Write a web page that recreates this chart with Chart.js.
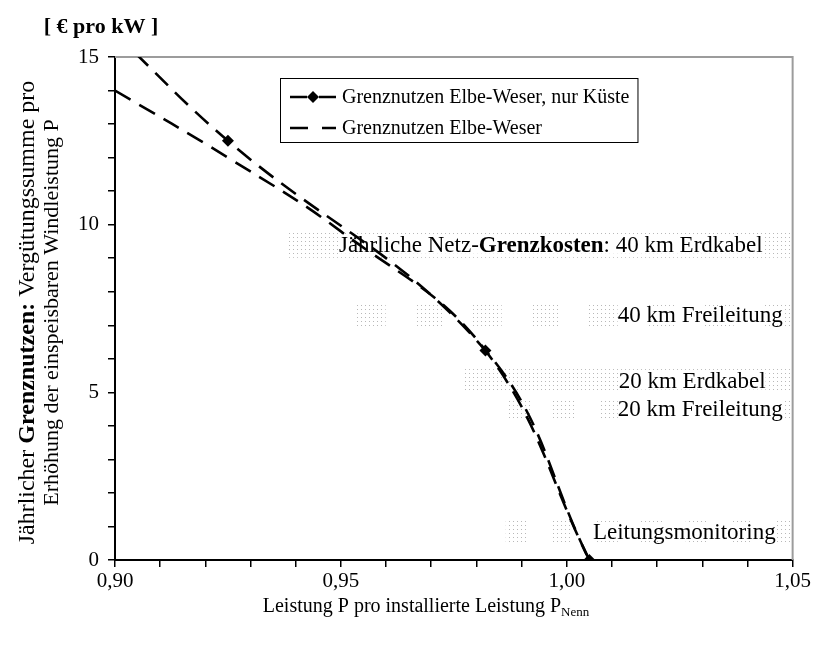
<!DOCTYPE html>
<html><head><meta charset="utf-8">
<script src="https://cdn.jsdelivr.net/npm/chart.js@4.4.1/dist/chart.umd.min.js"></script>
<style>html,body{margin:0;padding:0;background:#fff}#wrap{width:813px;height:648px;position:relative}</style>
</head><body><div id="wrap"><canvas id="c" width="813" height="648"></canvas></div>
<script>
// ---------- data ----------
const xNurKueste = [0.900, 0.925, 0.982, 1.005];
const yNurKueste = [15.7, 12.5, 6.25, 0.0];
const xElbeWeser = [0.900, 0.925, 0.950, 0.982, 1.005];
const yElbeWeser = [14.0, 12.0, 9.8, 6.25, 0.0];
const seriesLabels = ['Grenznutzen Elbe-Weser, nur Küste', 'Grenznutzen Elbe-Weser'];
const costLabels = ['40 km Erdkabel', '40 km Freileitung', '20 km Erdkabel', '20 km Freileitung', 'Leitungsmonitoring'];
const costLevels = [9.4, 7.3, 5.35, 4.5, 0.85];
const costFrom = [0.938, 0.9535, 0.977, 0.987, 0.9865];
const xTickLabels = ['0,90', '0,95', '1,00', '1,05'];
const yTickLabels = ['0', '5', '10', '15'];
const unitLabel = '[ € pro kW ]';
const xTitle = ['Leistung P pro installierte Leistung P', 'Nenn'];
const yTitle1 = [['Jährlicher ', false], ['Grenznutzen:', true], [' Vergütungssumme pro', false]];
const yTitle2 = [['Erhöhung der einspeisbaren Windleistung P', false]];
const notePrefix = [['Jährliche Netz-', false], ['Grenzkosten', true], [': ', false]];

// ---------- style ----------
const SERIF = '"Liberation Serif", "Times New Roman", serif';
const S = { tick: 21, xTitle: 20, yTitle1: 24, yTitle2: 22, unit: 22, legend: 20, note: 23, line: 2.6, dash: [18, 10] };
const bandStyle = [
  { h: 26, period: 0, width: 0, textRight: 30 },
  { h: 26, period: 58, width: 29, textRight: 10 },
  { h: 23, period: 0, width: 0, textRight: 27 },
  { h: 22, period: 45, width: 24, textRight: 10 },
  { h: 21, period: 45, width: 22, textRight: 17 }
];

function fontOf(size, bold) { return (bold ? 'bold ' : '') + size + 'px ' + SERIF; }
function richWidth(g, parts, size) { let w = 0; for (const [t, b] of parts) { g.font = fontOf(size, b); w += g.measureText(t).width; } return w; }
function drawRich(g, parts, x, y, size) { let cx = x; for (const [t, b] of parts) { g.font = fontOf(size, b); g.fillText(t, cx, y); cx += g.measureText(t).width; } return cx; }

let pattern = null;
function dotPattern(g) {
  if (pattern) return pattern;
  const c = document.createElement('canvas'); c.width = 4; c.height = 4;
  const p = c.getContext('2d'); p.fillStyle = '#b8b8b8'; p.fillRect(1, 1, 1, 1);
  pattern = g.createPattern(c, 'repeat');
  return pattern;
}

const decor = {
  id: 'decor',
  beforeDatasetsDraw(chart) {
    const g = chart.ctx, a = chart.chartArea, xs = chart.scales.x, ys = chart.scales.y;
    g.save();
    g.strokeStyle = '#9c9c9c'; g.lineWidth = 2;
    g.beginPath(); g.moveTo(a.left, a.top); g.lineTo(a.right, a.top); g.lineTo(a.right, a.bottom); g.stroke();
    const pat = dotPattern(g);
    costLevels.forEach((lv, i) => {
      const st = bandStyle[i];
      const yc = ys.getPixelForValue(lv);
      const x0 = xs.getPixelForValue(costFrom[i]);
      const x1 = a.right - 2;
      g.fillStyle = pat;
      if (st.period) {
        for (let x = x0; x < x1; x += st.period) g.fillRect(x, yc - st.h / 2, Math.min(st.width, x1 - x), st.h);
      } else {
        g.fillRect(x0, yc - st.h / 2, x1 - x0, st.h);
      }
      const parts = (i === 0 ? notePrefix : []).concat([[costLabels[i], false]]);
      const w = richWidth(g, parts, S.note);
      const tx = a.right - st.textRight - w;
      g.fillStyle = '#fff';
      g.fillRect(tx, yc - 9, w, 18);
      g.fillStyle = '#000'; g.textBaseline = 'middle'; g.textAlign = 'left';
      drawRich(g, parts, tx, yc + 1, S.note);
    });
    g.restore();
  },
  afterDraw(chart) {
    const g = chart.ctx, a = chart.chartArea;
    g.save();
    g.fillStyle = '#000'; g.textBaseline = 'middle';
    g.font = fontOf(S.unit, true); g.textAlign = 'center';
    g.fillText(unitLabel, 101, 27);
    g.textAlign = 'left'; g.font = fontOf(S.xTitle, false);
    const xw = g.measureText(xTitle[0]).width;
    g.font = fontOf(13, false);
    const sw = g.measureText(xTitle[1]).width;
    const xstart = 426 - (xw + sw) / 2;
    g.font = fontOf(S.xTitle, false); g.fillText(xTitle[0], xstart, 607);
    g.font = fontOf(13, false); g.fillText(xTitle[1], xstart + xw, 613);
    const cy = (a.top + a.bottom) / 2 + 4;
    [[yTitle1, 28, S.yTitle1], [yTitle2, 52, S.yTitle2]].forEach(([parts, x, fs]) => {
      g.save(); g.translate(x, cy); g.rotate(-Math.PI / 2);
      const w = richWidth(g, parts, fs);
      drawRich(g, parts, -w / 2, 0, fs);
      g.restore();
    });
    const lx = 280, ly = 78, lh = 64;
    g.font = fontOf(S.legend, false);
    const tw = Math.max(...seriesLabels.map(t => g.measureText(t).width));
    const lw = 342 - lx + tw + 8;
    g.fillStyle = '#fff'; g.fillRect(lx, ly, lw, lh);
    g.strokeStyle = '#000'; g.lineWidth = 1; g.strokeRect(lx + 0.5, ly + 0.5, lw, lh);
    const rows = [ly + 19, ly + 50];
    g.lineWidth = S.line; g.strokeStyle = '#000';
    rows.forEach((ry, i) => {
      if (i === 0) {
        g.beginPath(); g.moveTo(290, ry); g.lineTo(307, ry); g.moveTo(319, ry); g.lineTo(336, ry); g.stroke();
        g.fillStyle = '#000';
        g.beginPath(); g.moveTo(313, ry - 6); g.lineTo(319, ry); g.lineTo(313, ry + 6); g.lineTo(307, ry); g.closePath(); g.fill();
      } else {
        g.setLineDash([18, 14]);
        g.beginPath(); g.moveTo(290, ry); g.lineTo(336, ry); g.stroke();
        g.setLineDash([]);
      }
      g.fillStyle = '#000'; g.font = fontOf(S.legend, false); g.textAlign = 'left';
      g.fillText(seriesLabels[i], 342, ry + 1);
    });
    g.restore();
  }
};

const chart = new Chart(document.getElementById('c').getContext('2d'), {
  type: 'line',
  data: {
    datasets: [
      {
        label: seriesLabels[0],
        data: xNurKueste.map((x, i) => ({ x, y: yNurKueste[i] })),
        borderColor: '#000', borderWidth: S.line, borderDash: S.dash,
        pointStyle: 'rectRot', pointRadius: 6, pointBackgroundColor: '#000', pointBorderColor: '#000', pointBorderWidth: 0,
        tension: 0.4, fill: false
      },
      {
        label: seriesLabels[1],
        data: xElbeWeser.map((x, i) => ({ x, y: yElbeWeser[i] })),
        borderColor: '#000', borderWidth: S.line, borderDash: S.dash,
        pointRadius: 0, tension: 0.4, fill: false
      }
    ]
  },
  options: {
    responsive: false, animation: false, devicePixelRatio: 1,
    layout: { padding: { top: 57, right: 11, left: 0, bottom: 0 } },
    plugins: { legend: { display: false }, tooltip: { enabled: false } },
    scales: {
      x: {
        type: 'linear', min: 0.9, max: 1.05,
        afterFit(s) { s.height = 88; },
        border: { display: true, color: '#000', width: 2 },
        grid: { drawOnChartArea: false, drawTicks: true, tickLength: 7, tickColor: '#000', lineWidth: 1.5 },
        ticks: {
          stepSize: 0.01, autoSkip: false, maxRotation: 0, padding: 2,
          color: '#000', font: { family: SERIF, size: S.tick },
          callback(v) { const k = Math.round(v * 100); return k % 5 === 0 ? xTickLabels[(k - 90) / 5] : ''; }
        }
      },
      y: {
        type: 'linear', min: 0, max: 15,
        afterFit(s) { s.width = 115; },
        border: { display: true, color: '#000', width: 2 },
        grid: { drawOnChartArea: false, drawTicks: true, tickLength: 7, tickColor: '#000', lineWidth: 1.5 },
        ticks: {
          stepSize: 1, autoSkip: false, padding: 9,
          color: '#000', font: { family: SERIF, size: S.tick },
          callback(v) { const k = Math.round(v); return k % 5 === 0 ? yTickLabels[k / 5] : ''; }
        }
      }
    }
  },
  plugins: [decor]
});
</script></body></html>
